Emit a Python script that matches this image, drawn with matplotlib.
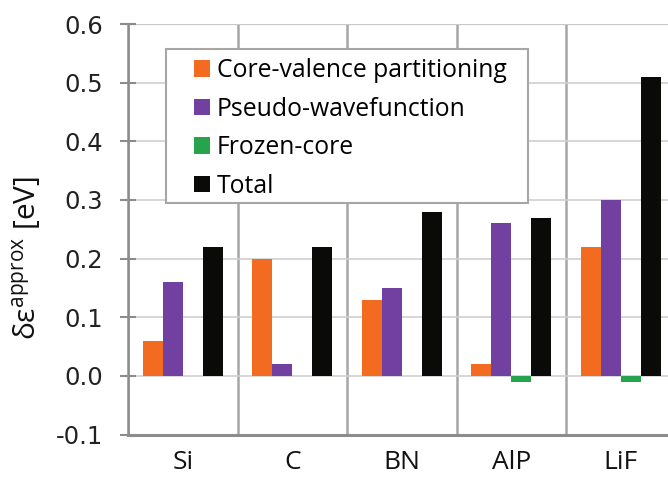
import numpy as np
import matplotlib.pyplot as plt
from matplotlib.patches import Rectangle

materials = ['Si', 'C', 'BN', 'AlP', 'LiF']
core_valence = [0.06, 0.20, 0.13, 0.02, 0.22]
pseudo_wf = [0.16, 0.02, 0.15, 0.26, 0.30]
frozen_core = [0.0, 0.0, 0.0, -0.01, -0.01]
total = [0.22, 0.22, 0.28, 0.27, 0.51]

series = [
    ('Core-valence partitioning', core_valence, '#F26B21'),
    ('Pseudo-wavefunction', pseudo_wf, '#7140A0'),
    ('Frozen-core', frozen_core, '#27A24D'),
    ('Total', total, '#0A0B09'),
]

fig = plt.figure(figsize=(6.68, 4.8), dpi=100)
# plot area runs past the right edge of the picture, as in the original crop
left, right, top, bottom = 128, 675.5, 24, 434.5
ax = fig.add_axes([left / 668, 1 - bottom / 480, (right - left) / 668, (bottom - top) / 480])

def px(xp, yp):
    # pixel position in the picture -> axes fraction
    return (xp - left) / (right - left), (bottom - yp) / (bottom - top)

x = np.arange(len(materials))
width = 1 / 5.5
for i, (name, vals, col) in enumerate(series):
    ax.bar(x + (i - 1.5) * width, vals, width, color=col, linewidth=0,
           label=name, zorder=3)

ax.set_xlim(-0.5, len(materials) - 0.5)
ax.set_ylim(-0.1, 0.6)
ax.set_yticks(np.arange(-0.1, 0.61, 0.1))
ax.set_yticklabels([f'{v:.1f}' for v in np.arange(-0.1, 0.61, 0.1)],
                   fontsize=17.5, color='#222222', family='DejaVu Sans')
ax.tick_params(axis='y', direction='inout', length=11.5, width=1.5,
               color='#8C8C8C', pad=12)

ax.set_xticks(x)
ax.set_xticklabels(materials, fontsize=19, family='Open Sans', color='#111111')
ax.set_xticks(np.arange(-0.5, len(materials), 1.0), minor=True)
ax.tick_params(axis='x', which='both', length=0, pad=11)

ax.grid(axis='y', color='#CFCFCF', linewidth=1.2, zorder=0)
ax.grid(axis='x', which='minor', color='#A6A6A6', linewidth=1.8, zorder=0)

for s in ['top', 'right']:
    ax.spines[s].set_visible(False)
ax.spines['left'].set_color('#8C8C8C')
ax.spines['left'].set_linewidth(1.8)
ax.spines['bottom'].set_color('#8C8C8C')
ax.spines['bottom'].set_linewidth(2.2)
ax.axhline(0.6, color='#A6A6A6', linewidth=1.6, zorder=1)

ax.set_ylabel('δε$^{\\mathregular{approx}}$ [eV]', fontsize=21.5,
              family='Open Sans', color='#111111')
ax.yaxis.set_label_coords(-0.153, 0.43)

# legend frame drawn separately so its padding can match the original
bx0, by0 = px(165.7, 203.3)
bx1, by1 = px(528, 49.3)
ax.add_patch(Rectangle((bx0, by0), bx1 - bx0, by1 - by0, transform=ax.transAxes,
                       facecolor='white', edgecolor='#A6A6A6', linewidth=1.5,
                       zorder=4))
leg = ax.legend(loc='upper left', bbox_to_anchor=px(194, 58),
                borderaxespad=0, borderpad=0, frameon=False,
                prop={'family': 'Open Sans', 'size': 17.8},
                handlelength=0.65, handleheight=0.65, handletextpad=0.27,
                labelspacing=0.55)
leg.set_zorder(5)

fig.savefig('out.png', dpi=100)
